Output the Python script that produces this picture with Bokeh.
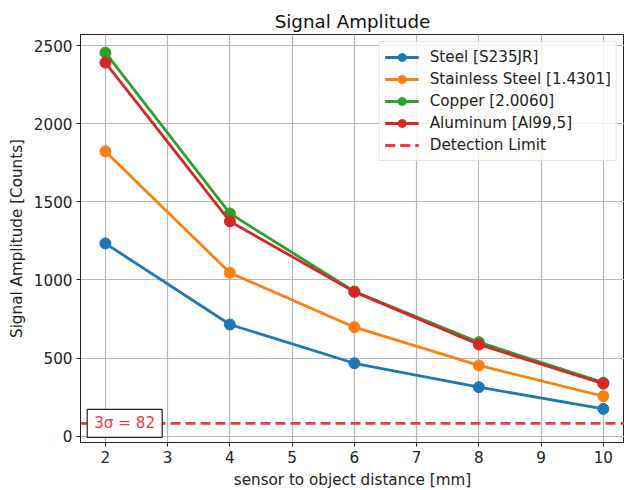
from bokeh.plotting import figure
from bokeh.models import Span, Label, Legend, LegendItem, Range1d, FixedTicker
from bokeh.embed import file_html
from bokeh.resources import INLINE

distance = [2, 4, 6, 8, 10]
steel = [1234, 715, 467, 314, 175]
stainless = [1823, 1046, 698, 453, 256]
copper = [2455, 1426, 926, 602, 343]
aluminum = [2391, 1375, 924, 587, 337]
detection_limit = 82

series = [
    ("Steel [S235JR]", steel, "#1f77b4"),
    ("Stainless Steel [1.4301]", stainless, "#ff7f0e"),
    ("Copper [2.0060]", copper, "#2ca02c"),
    ("Aluminum [Al99,5]", aluminum, "#d62728"),
]
limit_color = "#ee3a3a"
FONT = "DejaVu Sans"
FS = "15.2px"

p = figure(frame_width=544, frame_height=408, min_border_left=80, min_border_top=34,
           min_border_bottom=48, min_border_right=0,
           x_range=Range1d(1.6, 10.34), y_range=Range1d(-40, 2571),
           output_backend="svg", toolbar_location=None,
           title="Signal Amplitude")
p.title.align = "center"
p.title.text_font = FONT
p.title.text_font_size = "18.3px"
p.title.text_font_style = "normal"
p.title.text_color = "#111111"
p.title.standoff = 5

for ax in (p.xaxis, p.yaxis):
    ax.axis_label_text_font = FONT
    ax.axis_label_text_font_size = FS
    ax.axis_label_text_font_style = "normal"
    ax.axis_label_text_color = "#222222"
    ax.major_label_text_font = FONT
    ax.major_label_text_font_size = FS
    ax.major_label_text_color = "#222222"
    ax.axis_line_color = "#222222"
    ax.major_tick_line_color = "#222222"
    ax.major_tick_out = 4
    ax.major_tick_in = 0
    ax.minor_tick_line_color = None
    ax.major_label_standoff = 4
    ax.axis_label_standoff = 5

p.xaxis.axis_label = "sensor to object distance [mm]"
p.yaxis.axis_label = "Signal Amplitude [Counts]"
p.xaxis.ticker = FixedTicker(ticks=[2, 3, 4, 5, 6, 7, 8, 9, 10])
p.yaxis.ticker = FixedTicker(ticks=[0, 500, 1000, 1500, 2000, 2500])

p.xgrid.ticker = p.xaxis.ticker
p.ygrid.ticker = p.yaxis.ticker
for g in (p.xgrid, p.ygrid):
    g.grid_line_color = "#b8b8b8"
    g.grid_line_width = 1.2

p.outline_line_color = "#222222"
p.outline_line_width = 1
p.background_fill_color = "white"
p.border_fill_color = "white"

items = []
for name, vals, col in series:
    r1 = p.line(distance, vals, line_color=col, line_width=2.8)
    r2 = p.scatter(distance, vals, size=11, fill_color=col, line_color=col)
    items.append(LegendItem(label=name, renderers=[r1, r2]))

span = Span(location=detection_limit, dimension="width", line_color=limit_color,
            line_width=2.8, line_dash="10 5")
p.add_layout(span)
dummy = p.line([distance[0]], [detection_limit], line_color=limit_color,
               line_width=2.8, line_dash="10 5")
items.append(LegendItem(label="Detection Limit", renderers=[dummy]))

legend = Legend(items=items, location="top_right")
legend.label_text_font = FONT
legend.label_text_font_size = FS
legend.label_text_color = "#222222"
legend.glyph_width = 34
legend.glyph_height = 20
legend.label_height = 20
legend.spacing = 2
legend.padding = 5
legend.margin = 7
legend.label_standoff = 11
legend.border_line_color = "#cccccc"
legend.background_fill_alpha = 0.8
p.add_layout(legend)

label = Label(x=2.31, y=detection_limit, text=f"3σ = {detection_limit}",
              text_align="center", text_baseline="middle",
              text_font=FONT, text_font_size=FS, text_color=limit_color,
              background_fill_color="white", border_line_color="#222222",
              border_line_width=1.2, padding=(7, 5))
p.add_layout(label)

open("out.html", "w").write(file_html(p, INLINE))
